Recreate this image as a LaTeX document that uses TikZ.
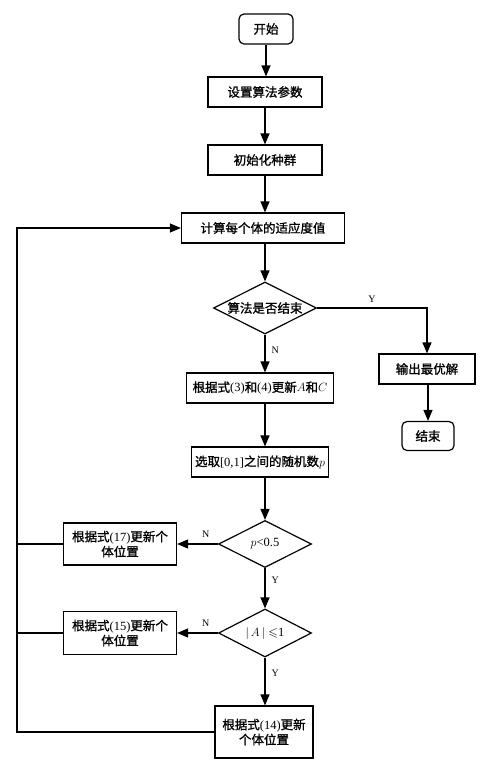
\documentclass[tikz,border=0pt]{standalone}
\usepackage{amsmath,amssymb}
\usepackage{fontspec}
\setmainfont{Noto Sans CJK SC}[FakeBold=1.2]
\newfontfamily\tnr{Liberation Serif}
\newcommand{\tn}[1]{{\tnr #1}}
\usetikzlibrary{shapes.geometric,arrows.meta}

\begin{document}
\begin{tikzpicture}[x=1pt,y=1pt]
\tikzstyle{every node}+=[font=\fontsize{12.5}{15}\selectfont]
\tikzstyle{box}=[draw,line width=1.2pt,inner sep=0pt,align=center]
\tikzstyle{term}=[box,rounded corners=5pt]
\tikzstyle{cond}=[draw,diamond,shape aspect=2,line width=1.2pt,inner sep=0pt]
\tikzstyle{arr}=[line width=1.2pt,-{Triangle[length=11pt,width=9pt]}]
\tikzstyle{lbl}=[font=\tnr\fontsize{10}{10}\selectfont,inner sep=0pt]
\useasboundingbox (0,0) rectangle (499,-764);
\coordinate (lx) at (17,0);
\node[term,minimum width=54,minimum height=30] (start) at (266,-29) {开始};
\node[box,minimum width=114,minimum height=30] (set) at (265,-92) {设置算法参数};
\node[box,minimum width=114,minimum height=30] (init) at (265,-160) {初始化种群};
\node[box,minimum width=163,minimum height=30] (fit) at (263,-228) {计算每个体的适应度值};
\node[cond,minimum width=103,minimum height=52] (judge) at (265,-308) {算法是否结束};
\node[box,minimum width=96,minimum height=30] (out) at (427,-369) {输出最优解};
\node[term,minimum width=52,minimum height=29] (end) at (428,-436) {结束};
\node[box,minimum width=147,minimum height=30] (upd) at (260,-388) {根据式\tn{(3)}和\tn{(4)}更新$A$和$C$};
\node[box,minimum width=137,minimum height=30] (rand) at (260,-462) {选取\tn{[0,1]}之间的随机数$p$};
\node[cond,minimum width=93,minimum height=47] (pc) at (265,-544) {\tn{$p$<0.5}};
\node[box,minimum width=113,minimum height=42] (b17) at (120,-544) {根据式\tn{(17)}更新个\\体位置};
\node[cond,minimum width=93,minimum height=48] (ac) at (265,-633) {$\lvert\,A\,\rvert\leqslant$\tn{1}};
\node[box,minimum width=113,minimum height=43] (b15) at (120,-633) {根据式\tn{(15)}更新个\\体位置};
\node[box,minimum width=98,minimum height=52] (b14) at (264,-732) {根据式\tn{(14)}更新\\个体位置};
\draw[arr] (start) -- (start |- set.north);
\draw[arr] (set) -- (init);
\draw[arr] (init) -- (init |- fit.north);
\draw[arr] (judge |- fit.south) -- (judge);
\draw[arr] (judge) -- node[lbl,right=6pt,pos=0.4]{N} (judge |- upd.north);
\draw[arr] (judge.east) -| node[lbl,above=5pt,pos=0.25]{Y} (out.north);
\draw[arr] (end |- out.south) -- (end);
\draw[arr] (judge |- upd.south) -- (judge |- rand.north);
\draw[arr] (pc |- rand.south) -- (pc);
\draw[arr] (pc.west) -- node[lbl,above=6pt,pos=0.3]{N} (b17.east);
\draw[arr] (pc) -- node[lbl,right=6pt,pos=0.3]{Y} (ac);
\draw[arr] (ac.west) -- node[lbl,above=6pt,pos=0.3]{N} (b15.east);
\draw[arr] (ac) -- node[lbl,right=6pt,pos=0.33]{Y} (ac |- b14.north);
\draw[arr] (b14.west) -- (b14.west -| lx) |- (fit.west);
\draw[line width=1.2pt] (b17.west) -- (b17.west -| lx);
\draw[line width=1.2pt] (b15.west) -- (b15.west -| lx);
\end{tikzpicture}
\end{document}
